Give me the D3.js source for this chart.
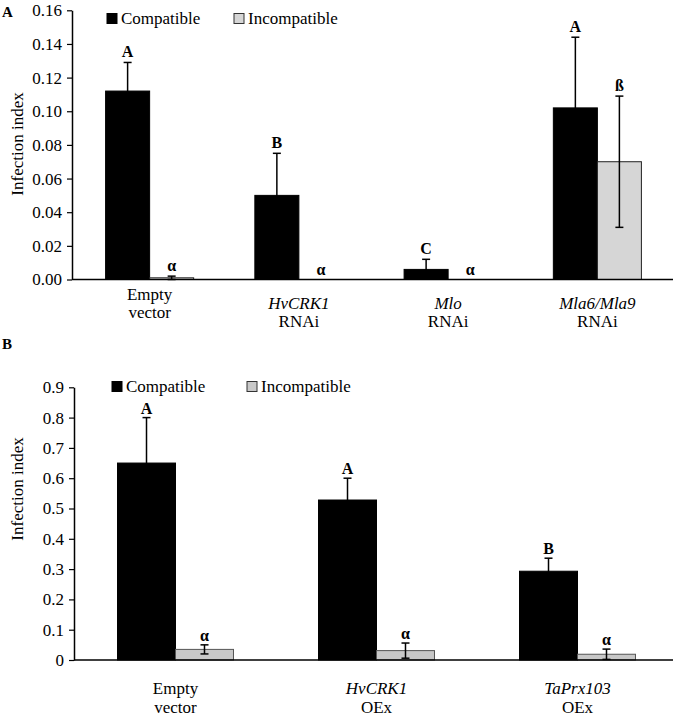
<!DOCTYPE html>
<html>
<head>
<meta charset="utf-8">
<script src="https://cdn.jsdelivr.net/npm/d3@7"></script>
<style>
  html, body { margin: 0; padding: 0; background: #fff; }
  svg { display: block; font-family: "Liberation Serif", "Times New Roman", serif; }
</style>
</head>
<body>
<svg id="chart" width="673" height="719"></svg>
<script>
// ---------------- Data ----------------
const seriesNames = ["Compatible", "Incompatible"];

// Panel A
const groupsA = ["Empty vector", "HvCRK1 RNAi", "Mlo RNAi", "Mla6/Mla9 RNAi"];
const labelTopA = ["Empty", "HvCRK1", "Mlo", "Mla6/Mla9"];
const labelBottomA = ["vector", "RNAi", "RNAi", "RNAi"];
const labelTopItalicA = [false, true, true, true];
const compatibleA = [0.112, 0.050, 0.006, 0.102];
const compatibleErrA = [0.017, 0.025, 0.006, 0.042];
const incompatibleA = [0.001, 0.000, 0.000, 0.070];
const incompatibleErrA = [0.001, 0.000, 0.000, 0.039];
const lettersCompA = ["A", "B", "C", "A"];
const lettersIncA = ["α", "α", "α", "ß"];
const ticksA = [0, 0.02, 0.04, 0.06, 0.08, 0.10, 0.12, 0.14, 0.16];

// Panel B
const groupsB = ["Empty vector", "HvCRK1 OEx", "TaPrx103 OEx"];
const labelTopB = ["Empty", "HvCRK1", "TaPrx103"];
const labelBottomB = ["vector", "OEx", "OEx"];
const labelTopItalicB = [false, true, true];
const compatibleB = [0.650, 0.528, 0.293];
const compatibleErrB = [0.150, 0.072, 0.043];
const incompatibleB = [0.035, 0.031, 0.019];
const incompatibleErrB = [0.015, 0.025, 0.017];
const lettersCompB = ["A", "A", "B"];
const lettersIncB = ["α", "α", "α"];
const ticksB = [0, 0.1, 0.2, 0.3, 0.4, 0.5, 0.6, 0.7, 0.8, 0.9];

// ---------------- Drawing ----------------
const svg = d3.select("#chart");
const W = 673;

function panel(cfg) {
  const g = svg.append("g");
  const y = d3.scaleLinear().domain(cfg.yDomain).range([cfg.y0, cfg.y1]);
  const x = d3.scaleBand().domain(cfg.groups).range(cfg.xRange)
    .paddingInner(cfg.padIn).paddingOuter(cfg.padIn / 2);
  const xs = d3.scaleBand().domain(seriesNames).range([0, x.bandwidth()]);

  const rows = cfg.groups.map((gName, i) => ({
    group: gName, i,
    vals: [
      { s: "Compatible", v: cfg.comp[i], e: cfg.compErr[i], letter: cfg.lettersComp[i] },
      { s: "Incompatible", v: cfg.inc[i], e: cfg.incErr[i], letter: cfg.lettersInc[i] }
    ]
  }));

  // bars
  const gg = g.selectAll("g.grp").data(rows).join("g")
    .attr("transform", d => `translate(${x(d.group)},0)`);

  gg.selectAll("rect").data(d => d.vals.filter(v => v.v > 0)).join("rect")
    .attr("x", d => xs(d.s))
    .attr("width", xs.bandwidth())
    .attr("y", d => y(d.v))
    .attr("height", d => y(0) - y(d.v))
    .attr("fill", d => d.s === "Compatible" ? "#000" : cfg.gray)
    .attr("stroke", d => d.s === "Compatible" ? "#000" : cfg.grayStroke)
    .attr("stroke-width", 1);

  // error bars
  const eb = gg.selectAll("g.eb").data(d => d.vals.filter(v => v.e > 0)).join("g")
    .attr("transform", d => `translate(${xs(d.s) + xs.bandwidth() / 2},0)`);
  eb.append("line")
    .attr("y1", d => y(Math.max(0, d.v - d.e))).attr("y2", d => y(d.v + d.e))
    .attr("stroke", "#000").attr("stroke-width", 1.5);
  eb.append("line")
    .attr("x1", -4).attr("x2", 4)
    .attr("y1", d => y(d.v + d.e)).attr("y2", d => y(d.v + d.e))
    .attr("stroke", "#000").attr("stroke-width", 1.5);
  eb.filter(d => d.s === "Incompatible").append("line")
    .attr("x1", -4).attr("x2", 4)
    .attr("y1", d => y(Math.max(0, d.v - d.e))).attr("y2", d => y(Math.max(0, d.v - d.e)))
    .attr("stroke", "#000").attr("stroke-width", 1.5);

  // letters
  gg.selectAll("text.let").data(d => d.vals).join("text")
    .attr("class", "let")
    .attr("x", d => xs(d.s) + xs.bandwidth() / 2)
    .attr("y", d => y(d.v + d.e) - cfg.letOff)
    .attr("text-anchor", "middle")
    .attr("font-weight", "bold")
    .attr("font-size", 16)
    .text(d => d.letter);

  // y axis
  const ax = g.append("g")
    .attr("transform", `translate(${cfg.axisX},0)`)
    .call(d3.axisLeft(y).tickValues(cfg.ticks).tickFormat(cfg.fmt).tickSize(5).tickSizeOuter(0).tickPadding(5));
  ax.select(".domain").attr("stroke", "#000").attr("stroke-width", 1.5);
  ax.selectAll(".tick line").attr("stroke", "#000").attr("stroke-width", 1.2);
  ax.selectAll(".tick text").attr("font-family", "Liberation Serif, serif").attr("font-size", 17).attr("fill", "#000");

  // x axis baseline
  g.append("line")
    .attr("x1", cfg.axisX).attr("x2", W)
    .attr("y1", y(0)).attr("y2", y(0))
    .attr("stroke", "#000").attr("stroke-width", 1.5);

  // category labels
  const cl = g.selectAll("text.cat").data(rows).join("text")
    .attr("class", "cat")
    .attr("text-anchor", "middle")
    .attr("font-size", 17)
    .attr("transform", d => `translate(${x(d.group) + x.bandwidth() / 2},0)`);
  cl.append("tspan")
    .attr("x", 0).attr("y", d => cfg.labelY[d.i][0])
    .attr("font-style", d => cfg.labelItalic[d.i] ? "italic" : "normal")
    .text(d => cfg.labelTop[d.i]);
  cl.append("tspan")
    .attr("x", 0).attr("y", d => cfg.labelY[d.i][1])
    .text(d => cfg.labelBottom[d.i]);

  // y title
  g.append("text")
    .attr("transform", `translate(${cfg.titleX},${cfg.titleY}) rotate(-90)`)
    .attr("text-anchor", "middle")
    .attr("font-size", 17)
    .text("Infection index");

  // panel label
  g.append("text")
    .attr("x", 2).attr("y", cfg.panelY)
    .attr("font-weight", "bold").attr("font-size", 15)
    .text(cfg.panelLabel);

  // legend
  const lg = g.append("g");
  cfg.legend.forEach((L, k) => {
    lg.append("rect")
      .attr("x", L.x).attr("y", cfg.legendY - 10.5)
      .attr("width", 10).attr("height", 10)
      .attr("fill", k === 0 ? "#000" : cfg.gray)
      .attr("stroke", k === 0 ? "#000" : "#333").attr("stroke-width", 1);
    lg.append("text")
      .attr("x", L.x + 14).attr("y", cfg.legendY)
      .attr("font-size", 17)
      .text(seriesNames[k]);
  });
}

panel({
  groups: groupsA, comp: compatibleA, compErr: compatibleErrA,
  inc: incompatibleA, incErr: incompatibleErrA,
  lettersComp: lettersCompA, lettersInc: lettersIncA,
  yDomain: [0, 0.16], y0: 279.5, y1: 10.3, ticks: ticksA, fmt: d3.format(".2f"),
  xRange: [75, 672], padIn: 0.41, axisX: 72,
  gray: "#d6d6d6", grayStroke: "#222",
  letOff: 5,
  labelTop: labelTopA, labelBottom: labelBottomA, labelItalic: labelTopItalicA,
  labelY: [[300, 318], [309, 327], [309, 327], [309, 327]],
  titleX: 23, titleY: 144, panelY: 17, panelLabel: "A",
  legendY: 24, legend: [{ x: 107 }, { x: 234 }]
});

panel({
  groups: groupsB, comp: compatibleB, compErr: compatibleErrB,
  inc: incompatibleB, incErr: incompatibleErrB,
  lettersComp: lettersCompB, lettersInc: lettersIncB,
  yDomain: [0, 0.9], y0: 660, y1: 387.3, ticks: ticksB, fmt: d => d === 0 ? "0" : d3.format(".1f")(d),
  xRange: [75, 678], padIn: 0.423, axisX: 74,
  gray: "#c8c8c8", grayStroke: "#555",
  letOff: 4,
  labelTop: labelTopB, labelBottom: labelBottomB, labelItalic: labelTopItalicB,
  labelY: [[694, 713], [694, 713], [694, 713]],
  titleX: 23, titleY: 489, panelY: 349, panelLabel: "B",
  legendY: 392, legend: [{ x: 112 }, { x: 247 }]
});
</script>
</body>
</html>
